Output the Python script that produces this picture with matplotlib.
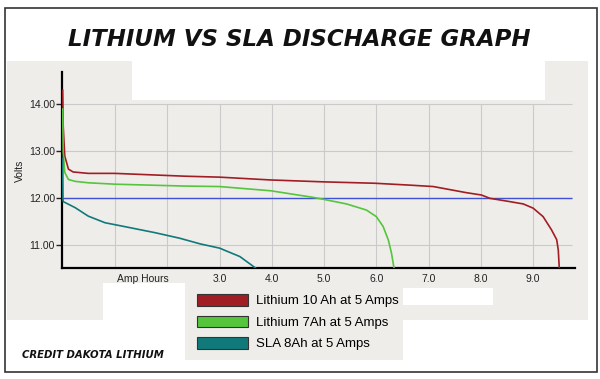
import matplotlib
matplotlib.use("Agg")
import matplotlib.pyplot as plt
from matplotlib.patches import Rectangle, Patch

# discharge curves (Amp hours, volts)
li10_ah = [0.0, 0.01, 0.04, 0.11, 0.2, 0.49, 1.0, 2.34, 3.0, 3.98, 4.98, 5.97, 6.64,
           7.09, 7.72, 8.01, 8.17, 8.55, 8.81, 9.0, 9.19, 9.35, 9.45, 9.48, 9.50]
li10_v = [14.3, 13.54, 12.9, 12.62, 12.56, 12.53, 12.53, 12.47, 12.45, 12.39, 12.35, 12.32, 12.28,
          12.25, 12.12, 12.07, 12.0, 11.93, 11.88, 11.79, 11.61, 11.33, 11.12, 10.90, 10.50]

li7_ah = [0.0, 0.01, 0.04, 0.11, 0.24, 0.49, 1.0, 2.34, 3.0, 3.98, 4.79, 4.98, 5.43,
          5.81, 6.0, 6.13, 6.23, 6.29, 6.34]
li7_v = [13.9, 12.97, 12.55, 12.40, 12.36, 12.33, 12.30, 12.26, 12.25, 12.16, 12.02, 11.98, 11.88,
         11.75, 11.61, 11.40, 11.11, 10.83, 10.50]

sla_ah = [0.0, 0.005, 0.01, 0.24, 0.49, 0.81, 1.13, 1.76, 2.24, 2.63, 3.0, 3.39, 3.71]
sla_v = [12.85, 12.0, 11.93, 11.80, 11.62, 11.48, 11.41, 11.27, 11.15, 11.03, 10.94, 10.76, 10.50]

cutoff_v = 12.0
series_labels = ["Lithium 10 Ah at 5 Amps", "Lithium 7Ah at 5 Amps", "SLA 8Ah at 5 Amps"]
series_colors = ["#a11d24", "#55c53c", "#11797a"]
xtick_vals = [3, 4, 5, 6, 7, 8, 9]
ytick_vals = [11, 12, 13, 14]

W, H = 600, 379
fig = plt.figure(figsize=(W / 100, H / 100), dpi=100)
fig.patch.set_facecolor("white")

def box(x0, y0, x1, y1, color):
    # rectangle given in image pixels (top-left origin)
    r = Rectangle((x0 / W, 1 - y1 / H), (x1 - x0) / W, (y1 - y0) / H,
                  transform=fig.transFigure, facecolor=color, edgecolor="none", zorder=-10)
    fig.patches.append(r)

gray = "#efedea"
box(7, 61, 588, 320, gray)
box(185, 283, 403, 360, gray)
box(132, 61, 545, 100, "white")
box(103, 283, 185, 320, "white")
box(403, 288, 493, 305, "white")

# outer frame
fig.patches.append(Rectangle((5 / W, 1 - 372 / H), 592 / W, 364 / H, transform=fig.transFigure,
                             facecolor="none", edgecolor="#333333", lw=1.2, zorder=5))

ax = fig.add_axes([62 / W, 1 - 268 / H, 513 / W, 196 / H])
ax.set_facecolor("none")
ax.set_xlim(-0.013, 9.8)
ax.set_ylim(10.517, 14.687)

# grid
ax.hlines(ytick_vals, 0, 9.74, color="#cacaca", lw=0.8, zorder=1)
ax.vlines(range(1, 10), 10.517, 14.0, color="#cacaca", lw=0.8, zorder=1)
ax.hlines(cutoff_v, 0, 9.75, color="#3f51d6", lw=1.0, zorder=2)

ax.plot(li10_ah, li10_v, color=series_colors[0], lw=1.2, zorder=3)
ax.plot(li7_ah, li7_v, color=series_colors[1], lw=1.2, zorder=3)
ax.plot(sla_ah, sla_v, color=series_colors[2], lw=1.2, zorder=3)

for s in ["top", "right"]:
    ax.spines[s].set_visible(False)
for s in ["left", "bottom"]:
    ax.spines[s].set_linewidth(1.6)
    ax.spines[s].set_color("black")

ax.set_yticks(ytick_vals)
ax.set_yticklabels([f"{v:.2f}" for v in ytick_vals])
ax.set_xticks([1.53] + xtick_vals)
ax.set_xticklabels(["Amp Hours"] + [f"{v:.1f}" for v in xtick_vals])
ax.tick_params(axis="y", length=4, width=1, pad=1, labelsize=7.5, colors="#222222")
ax.tick_params(axis="x", length=0, pad=4, labelsize=7.5, colors="#222222")
for lab in ax.get_xticklabels() + ax.get_yticklabels():
    lab.set_family("Liberation Sans")

fig.text(19.5 / W, 1 - 171 / H, "Volts", rotation=90, ha="center", va="center",
         fontsize=7.5, family="Liberation Sans", color="#222222")

fig.text(299 / W, 1 - 40 / H, "LITHIUM VS SLA DISCHARGE GRAPH", ha="center", va="center",
         fontsize=16.5, fontweight="bold", fontstyle="italic",
         family="DejaVu Sans", color="#111111")
fig.text(22 / W, 1 - 355 / H, "CREDIT DAKOTA LITHIUM", ha="left", va="center",
         fontsize=7.3, fontweight="bold", fontstyle="italic",
         family="DejaVu Sans", color="#111111")

handles = [Patch(facecolor=c, edgecolor="#333333", lw=0.8) for c in series_colors]
fig.legend(handles, series_labels, loc="upper left", bbox_to_anchor=(197 / W, 1 - 294 / H),
           frameon=False, prop={"family": "Liberation Sans", "size": 9.5},
           handlelength=3.86, handleheight=0.98, handletextpad=0.6, labelspacing=0.62,
           borderpad=0, borderaxespad=0)

fig.savefig("out.png", dpi=100)
